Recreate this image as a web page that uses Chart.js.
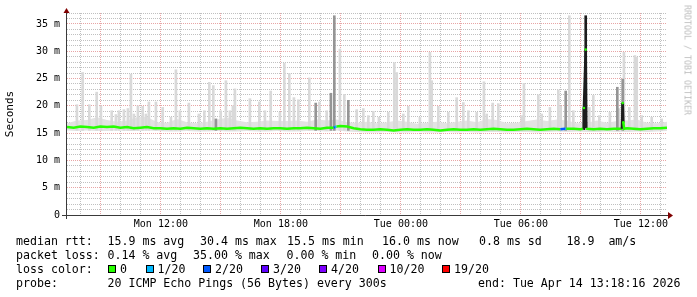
<!DOCTYPE html>
<html><head><meta charset="utf-8">
<script src="https://cdn.jsdelivr.net/npm/chart.js@4/dist/chart.umd.min.js"></script>
<style>
html,body{margin:0;padding:0;background:#fff;}
#wrap{position:relative;width:697px;height:297px;overflow:hidden;font-family:'DejaVu Sans Mono',monospace;background:#fff;}
canvas{position:absolute;left:0;top:0;}
.t{position:absolute;white-space:pre;font-size:11.6px;line-height:14px;color:#000;}
.sq{position:absolute;width:8px;height:8px;box-sizing:border-box;border:1px solid #000;}
#wm{position:absolute;left:686.5px;top:60px;transform:translate(-50%,-50%) rotate(90deg);font-size:8.3px;line-height:9px;color:#bdbdbd;white-space:pre;}
</style></head><body>
<div id="wrap"><canvas id="c" width="697" height="297"></canvas><div id="legend"></div><div id="wm">RRDTOOL / TOBI OETIKER</div></div>
<script>
// ---- time axis: hours since Mon 00:00 ----
const START = 7 + 18/60 + 16/3600;   // Mon 07:18:16
const END = START + 30;              // Tue 13:18:16
const SMOKE_STEP = 0.5;              // hours between smoke band samples
const MEDIAN_STEP = 1/3;             // hours between median samples

const xTickHours = [12, 18, 24, 30, 36];
const xTickLabels = ['Mon 12:00', 'Mon 18:00', 'Tue 00:00', 'Tue 06:00', 'Tue 12:00'];
const yTickValues = [0, 5, 10, 15, 20, 25, 30, 35];
const yTickLabels = ['0', '5 m', '10 m', '15 m', '20 m', '25 m', '30 m', '35 m'];

// smoke band (ms), every 30 min
const smokeLow = [15.5,15.4,15.5,15.4,15.4,15.5,15.4,15.4,15.5,15.4,
  15.3,15.3,15.4,15.3,15.3,15.4,15.3,15.3,15.4,15.3,
  15.3,15.4,15.3,15.3,15.4,15.4,15.3,15.5,15.3,15.2,
  15.1,15.1,15.2,15.1,15.1,15.2,15.1,15.1,15.2,15.1,
  15.2,15.1,15.2,15.2,15.1,15.2,15.2,15.1,15.2,15.3,
  15.2,15.3,15.2,15.2,15.3,15.2,15.2,15.3,15.2,15.3,15.4];
const smokeHigh = [16.8,17.3,17.4,17.9,17.4,17.1,17.3,17.9,18.0,17.0,
  16.9,17.6,17.0,16.8,17.1,17.5,17.8,17.3,17.0,17.1,
  17.3,17.2,17.2,17.3,17.1,17.5,17.3,17.5,17.0,16.9,
  17.1,16.8,17.0,17.3,17.1,16.7,16.9,17.1,16.8,17.1,
  17.3,17.0,17.6,17.4,16.8,16.9,17.2,17.5,17.2,17.5,
  17.3,16.8,16.9,17.3,16.9,17.2,17.3,17.5,16.9,16.8,17.1];
const SMOKE_FLOOR = 15.5;

// light smoke spikes (highest ping, ms)
const lightSpikeTimes = [7.80,8.09,8.42,8.79,9.00,9.54,9.75,9.90,10.15,10.35,10.50,10.65,10.85,11.09,11.25,11.40,11.75,12.09,12.50,12.75,12.95,13.40,13.90,14.17,14.42,14.62,14.99,15.25,15.45,15.60,15.70,16.45,16.92,17.20,17.49,17.95,18.17,18.42,18.65,18.87,19.42,19.92,20.29,20.95,21.17,21.79,22.12,22.37,22.62,22.90,23.37,23.67,23.79,24.12,24.37,24.95,25.45,25.54,25.87,26.37,26.79,27.12,27.37,27.79,28.15,28.29,28.59,28.87,30.04,30.15,30.87,31.04,31.45,31.87,31.99,32.42,32.62,33.42,33.62,33.92,34.45,34.92,35.15,35.42,35.70,35.79,36.04,36.54,37.04];
const lightSpikeMax = [20.2,26.1,20.2,22.5,20.0,19.1,18.4,19.1,19.3,19.5,25.8,18.5,20.0,19.9,18.5,20.7,20.7,19.7,17.9,26.6,19.1,20.5,18.5,19.1,24.3,23.7,19.1,24.6,19.1,20.0,23.1,21.3,20.7,19.1,22.7,18.8,27.8,25.9,21.5,21.1,25.1,20.7,19.1,30.4,22.1,19.3,19.5,18.2,19.0,17.9,18.8,27.9,26.1,18.5,19.9,17.9,29.8,24.6,19.9,18.8,21.5,20.6,19.1,18.8,24.4,18.5,20.5,20.4,18.2,24.1,22.0,18.5,19.7,22.9,19.9,36.5,19.1,19.7,21.9,18.2,18.8,19.5,29.8,19.7,29.2,28.9,18.2,17.9,17.6];
// denser (darker) smoke
const darkSpikeTimes = [14.75,19.74,20.50,20.67,21.37,32.24,34.82,35.09];
const darkSpikeMax = [17.6,20.5,22.3,36.5,21.0,22.7,23.4,24.9];
const blackSpikeTimes = [33.15,33.24,35.09];
const blackSpikeMax = [19.6,36.5,20.5];

// median rtt (ms), every 20 min
const medianValues = [16.1,16.0,16.2,16.1,16.0,16.2,16.1,16.2,16.0,16.1,15.9,16.0,16.1,15.9,
  15.9,15.8,15.9,15.8,16.0,15.9,15.8,15.9,15.8,15.9,15.8,15.9,16.0,15.9,15.8,15.9,15.8,15.9,15.9,
  15.8,15.9,15.9,16.0,15.9,15.8,16.0,16.0,
  16.3,16.2,15.9,
  15.7,15.6,15.6,15.7,15.6,15.5,15.6,15.7,15.6,15.6,15.7,15.6,15.5,15.6,15.7,15.6,15.6,
  15.7,15.6,15.7,15.8,15.7,15.6,15.6,15.7,15.8,15.7,15.6,15.7,15.8,15.7,
  15.8,15.8,15.7,15.8,15.7,15.8,15.7,15.8,15.8,15.9,15.8,15.7,15.8,15.9,15.9,16.0];
// extra median samples around events (time h, ms, lost pings of 20)
const medianExtraTimes = [20.70,20.78,32.22,32.27,33.12,33.15,33.24,33.27,35.05,35.09,35.12,35.16];
const medianExtraValues = [16.1,16.2,15.8,15.8,15.8,19.6,30.3,15.9,15.8,20.5,17.0,15.8];
const medianExtraLoss = [2,1,2,1,0,0,0,0,0,0,0,0];

// legend
const lossLevels = [0, 1, 2, 3, 4, 10, 19];
const lossLabels = ['0', '1/20', '2/20', '3/20', '4/20', '10/20', '19/20'];
const lossColors = ['#26ff00', '#00b8ff', '#0059ff', '#5e00ff', '#7e00ff', '#dd00ff', '#ff0000'];
const rttStats = ['15.9 ms avg', '30.4 ms max', '15.5 ms min', '16.0 ms now', '0.8 ms sd', '18.9  am/s'];
const lossStats = ['0.14 % avg', '35.00 % max', '0.00 % min', '0.00 % now'];
const probeText = '20 ICMP Echo Pings (56 Bytes) every 300s';
const endText = 'end: Tue Apr 14 13:18:16 2026';

// ---- build legend (HTML text) ----
(function(){
  const L = document.getElementById('legend');
  function txt(x, top, s){ const d = document.createElement('div'); d.className='t'; d.style.left = x+'px'; d.style.top = top+'px'; d.textContent = s; L.appendChild(d); }
  const rttX = [107.5, 200, 287, 382, 479, 566.5];
  const lossX = [107.5, 193, 286.5, 372];
  txt(16, 234, 'median rtt:'); rttStats.forEach((s,i)=>txt(rttX[i], 234, s));
  txt(16, 248, 'packet loss:'); lossStats.forEach((s,i)=>txt(lossX[i], 248, s));
  txt(16, 262, 'loss color:');
  const sqX = [108, 145.5, 203, 261, 319, 377.5, 442];
  lossLabels.forEach((s,i)=>{
    const q = document.createElement('div'); q.className='sq'; q.style.left = sqX[i]+'px'; q.style.top='265px'; q.style.background = lossColors[i]; L.appendChild(q);
    txt(sqX[i]+12, 262, s);
  });
  txt(16, 276, 'probe:'); txt(107.5, 276, probeText); txt(478, 276, endText);
})();

// ---- chart ----
const GRID = 'rgba(140,140,140,0.55)';
const MGRID = 'rgba(200,40,40,0.42)';
const SMOKE_LIGHT = '#d9d9d9';
const SMOKE_BAND = '#e3e3e3';

function lossColor(n){ let c = lossColors[0]; lossLevels.forEach((l,i)=>{ if (n >= l) c = lossColors[i]; }); return c; }

const smokeLowPts = smokeLow.map((v,k)=>({x: START + k*SMOKE_STEP, y: v}));
const smokeHighPts = smokeHigh.map((v,k)=>({x: START + k*SMOKE_STEP, y: v}));
const lightPts = lightSpikeTimes.map((t,i)=>({x: t, y: [SMOKE_FLOOR, lightSpikeMax[i]]}));
const darkPts = darkSpikeTimes.map((t,i)=>({x: t, y: [SMOKE_FLOOR, darkSpikeMax[i]]}));
const blackPts = blackSpikeTimes.map((t,i)=>({x: t, y: [SMOKE_FLOOR + 0.5, blackSpikeMax[i]]}));
const medianPts = medianValues.map((v,k)=>({x: START + k*MEDIAN_STEP, y: v, loss: 0}));
medianExtraTimes.forEach((t,i)=>medianPts.push({x: t, y: medianExtraValues[i], loss: medianExtraLoss[i]}));
medianPts.sort((a,b)=>a.x-b.x);

const hourGrid = []; for (let h = Math.ceil(START); h <= END; h++) hourGrid.push(h);
const mGrid = []; for (let m = 0; m <= 37; m++) mGrid.push(m);

Chart.defaults.font.family = "'DejaVu Sans Mono', monospace";

const axesPlugin = {
  id: 'rrdAxes',
  afterDatasetsDraw(chart){
    const {ctx, chartArea: a} = chart;
    ctx.save();
    ctx.strokeStyle = '#3a3a3a'; ctx.lineWidth = 1; ctx.setLineDash([]);
    ctx.beginPath();
    ctx.moveTo(a.left - 5, a.bottom + 0.5); ctx.lineTo(a.right + 2, a.bottom + 0.5);
    ctx.moveTo(a.left - 0.5, a.bottom + 4); ctx.lineTo(a.left - 0.5, a.top - 2);
    ctx.stroke();
    ctx.fillStyle = '#800000';
    ctx.beginPath();
    ctx.moveTo(a.right + 1, a.bottom - 3); ctx.lineTo(a.right + 6, a.bottom + 0.5); ctx.lineTo(a.right + 1, a.bottom + 4); ctx.closePath(); ctx.fill();
    ctx.beginPath();
    ctx.moveTo(a.left - 3.5, a.top); ctx.lineTo(a.left - 0.5, a.top - 5); ctx.lineTo(a.left + 2.5, a.top); ctx.closePath(); ctx.fill();
    ctx.restore();
  }
};

new Chart(document.getElementById('c'), {
  type: 'bar',
  data: { datasets: [
    { type:'line', data: smokeLowPts, borderColor:'transparent', borderWidth:0, pointRadius:0, fill:false, order:6 },
    { type:'line', data: smokeHighPts, borderColor:'transparent', borderWidth:0, pointRadius:0, fill:'-1', backgroundColor: SMOKE_BAND, order:5 },
    { type:'bar', data: lightPts, backgroundColor: SMOKE_LIGHT, barThickness: 2, stack:'smoke', order:4 },
    { type:'bar', data: darkPts, backgroundColor: '#959595', barThickness: 2, stack:'smoke', order:3 },
    { type:'bar', data: blackPts, backgroundColor: '#1c1c1c', barThickness: 2, stack:'smoke', order:2 },
    { type:'line', data: medianPts, borderWidth: 2.5, tension: 0, fill: false, order: 1,
      borderColor: '#26ff00',
      segment: { borderColor: ctx => {
        const p0 = medianPts[ctx.p0DataIndex], p1 = medianPts[ctx.p1DataIndex];
        if (Math.abs(p1.y - p0.y) > 2.5) return '#1c1c1c';
        return lossColor(p1.loss);
      } },
      pointRadius: ctx => (medianPts[ctx.dataIndex] && medianPts[ctx.dataIndex].y >= 17) ? 1.3 : 0,
      pointBackgroundColor: '#26ff00', pointBorderWidth: 0 }
  ]},
  options: {
    responsive: false, animation: false, devicePixelRatio: 1, events: [],
    layout: { padding: { left: 0, right: 30, top: 12, bottom: 0 } },
    plugins: { legend: { display: false }, tooltip: { enabled: false } },
    scales: {
      x: {
        type: 'linear', min: START, max: END, offset: false,
        afterBuildTicks(s){ s.ticks = hourGrid.map(v=>({value: v})); },
        afterFit(s){ s.height = 82; },
        ticks: { autoSkip: false, maxRotation: 0, minRotation: 0, padding: 3, color: '#000', font: { size: 10 },
          callback(v){ const i = xTickHours.indexOf(v); return i >= 0 ? xTickLabels[i] : ''; } },
        grid: { offset: false, drawTicks: false, lineWidth: 1, color: ctx => (ctx.tick && ctx.tick.value % 3 === 0) ? MGRID : GRID },
        border: { display: false, dash: [1, 1] }
      },
      y: {
        type: 'linear', min: 0, max: 37, stacked: false,
        afterBuildTicks(s){ s.ticks = mGrid.map(v=>({value: v})); },
        afterFit(s){ s.width = 67; },
        ticks: { autoSkip: false, padding: 7, color: '#000', font: { size: 10 },
          callback(v){ const i = yTickValues.indexOf(v); return i >= 0 ? yTickLabels[i] : ''; } },
        grid: { drawTicks: false, lineWidth: 1, color: ctx => (ctx.tick && ctx.tick.value % 5 === 0) ? MGRID : GRID },
        border: { display: false, dash: [1, 1] },
        title: { display: true, text: 'Seconds', color: '#000', font: { size: 11 }, padding: { top: 4, bottom: 0 } }
      }
    }
  },
  plugins: [axesPlugin]
});
</script>
</body></html>
